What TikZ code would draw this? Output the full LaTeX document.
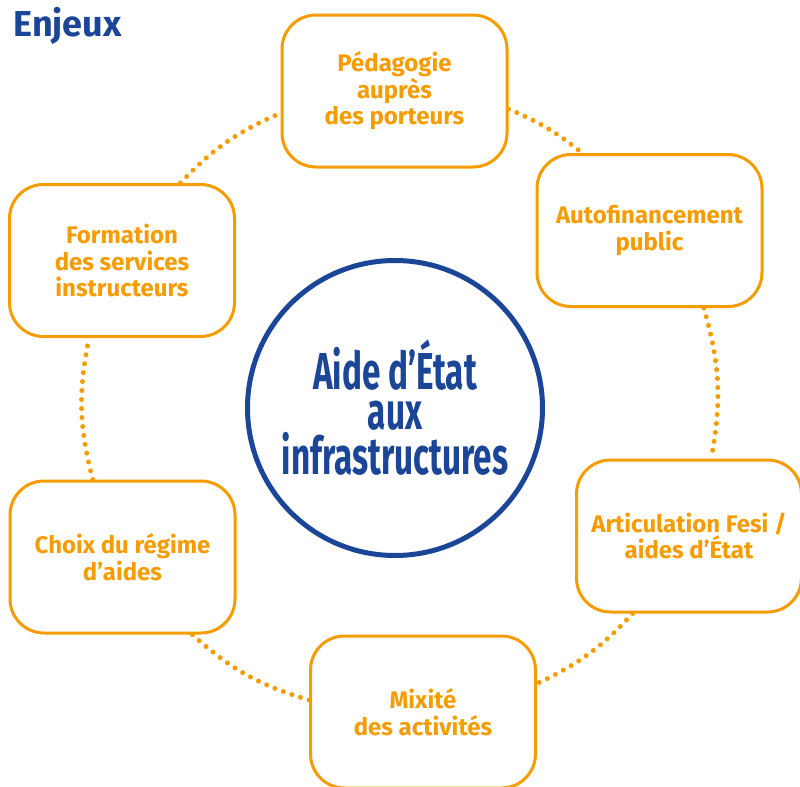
\documentclass[tikz,border=0pt]{standalone}
\usepackage{fontspec}
\setsansfont{Fira Sans}
\renewcommand{\familydefault}{\sfdefault}
\newfontfamily\hubfont[FakeStretch=0.64]{Fira Sans}
\usepackage{tikz}
\definecolor{enjorange}{HTML}{F59C00}
\definecolor{enjblue}{HTML}{1B4597}

\begin{document}
\begin{tikzpicture}[line cap=round,line join=round,x=0.5pt,y=0.5pt
  ,enjeu/.style={draw=enjorange,line width=1.5pt,fill=white,rounded corners=17pt
    ,minimum width=112.5pt,minimum height=76pt,inner sep=0pt,align=center
    ,text=enjorange,font=\bfseries\fontsize{12}{13.3}\selectfont}
  ,lien/.style={enjorange,line width=2.5pt,dash pattern=on 0pt off 4.5pt}]
  \useasboundingbox (0,0) rectangle (800,-787);
  \clip (0,0) rectangle (800,-787);
  \node[anchor=base west,inner sep=0pt,text=enjblue
    ,font=\bfseries\fontsize{18}{20}\selectfont] (titre) at (13,-37) {Enjeux};
  \node[draw=enjblue,line width=2.5pt,circle,minimum size=147.5pt,inner sep=0pt
    ,align=center,text=enjblue,font=\hubfont\bfseries\fontsize{26}{20}\selectfont]
    (aide) at (395,-408) {Aide d’État\\aux\\infrastructures};
  \node[enjeu] (peda) at (394.5,-91) {Pédagogie\\auprès\\des porteurs};
  \node[enjeu] (auto) at (649.5,-230.5) {Autofinancement\\public};
  \node[enjeu] (artic) at (689,-536) {Articulation Fesi /\\aides d’État};
  \node[enjeu] (mixite) at (423,-712) {Mixité\\des activités};
  \node[enjeu] (choix) at (122.5,-557) {Choix du régime\\d’aides};
  \node[enjeu] (forma) at (122,-260.5) {Formation\\des services\\instructeurs};
  \draw[lien] (forma.53) to[bend left=11.5] (peda.191);
  \draw[lien] (peda.351) to[bend left=8] (auto.131);
  \draw[lien] (auto.305) to[bend left=13.3] (artic.74);
  \draw[lien] (artic.234) to[bend left=11] (mixite.14.4);
  \draw[lien] (mixite.174) to[bend left=12.7] (choix.312);
  \draw[lien] (choix.111) to[bend left=13] (forma.247);
\end{tikzpicture}
\end{document}
